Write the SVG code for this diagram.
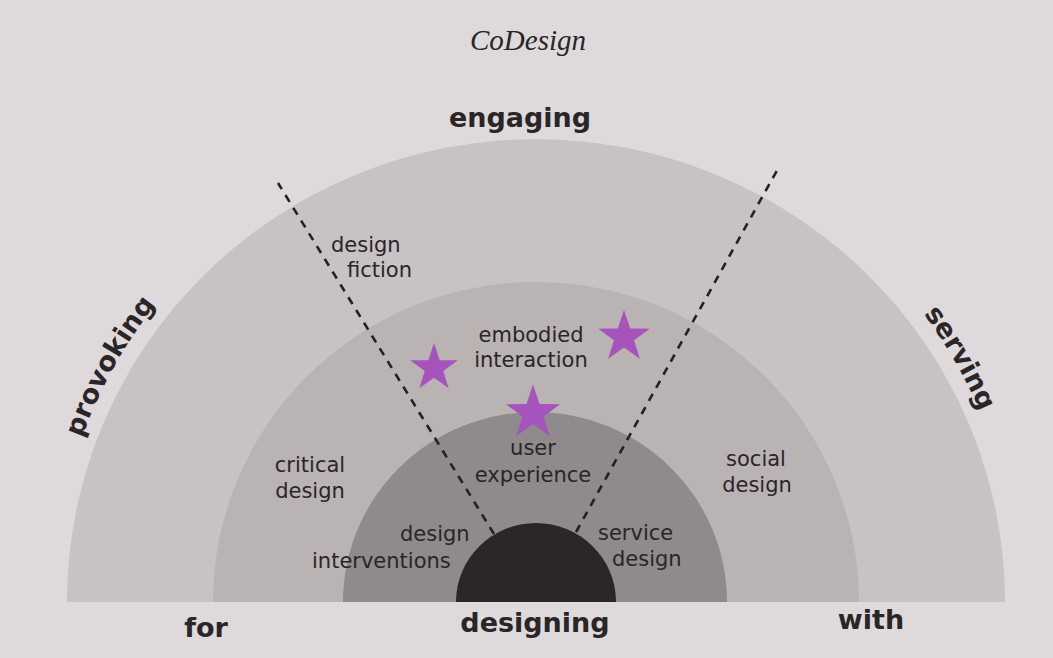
<svg xmlns="http://www.w3.org/2000/svg" xmlns:xlink="http://www.w3.org/1999/xlink" width="1053" height="658" viewBox="0 0 1053 658">
<style>
.lbl{font-family:"DejaVu Sans",Verdana,sans-serif;font-size:21px;fill:#2a2527}
.big{font-family:"DejaVu Sans",Verdana,sans-serif;font-size:27px;font-weight:bold;fill:#2a2527}
.dash{stroke:#252022;stroke-width:2.6;stroke-dasharray:8 7;fill:none}
.star{fill:#a653bb}
</style>
<defs>
<polygon id="star" points="0,-10 2.29,-3.15 9.511,-3.09 3.71,1.2 5.878,8.09 0,3.9 -5.878,8.09 -3.71,1.2 -9.511,-3.09 -2.29,-3.15"/>
<path id="arcPath" d="M 53 602 A 483 483 0 0 1 1019 602"/>
</defs>
<rect x="0" y="0" width="1053" height="658" fill="#dedadb"/>
<text x="528" y="50" text-anchor="middle" font-family="Liberation Serif,serif" font-style="italic" font-size="29" fill="#2a2527">CoDesign</text>
<g id="ring-outer"><path d="M 67 602 A 469 463 0 0 1 1005 602 Z" fill="#c7c2c3"/></g>
<g id="ring-middle"><path d="M 213 602 A 323 320 0 0 1 859 602 Z" fill="#b9b3b4"/></g>
<g id="ring-inner"><path d="M 343 602 A 192 190 0 0 1 727 602 Z" fill="#8f8a8b"/></g>
<g id="core"><path d="M 456 602 A 80 79 0 0 1 616 602 Z" fill="#2b2628"/></g>
<g id="connectors">
<line class="dash" x1="494" y1="534" x2="278" y2="183"/>
<line class="dash" x1="576" y1="532" x2="780" y2="165"/>
</g>
<g id="stars">
<use xlink:href="#star" class="star" transform="translate(434,368) scale(2.5)"/>
<use xlink:href="#star" class="star" transform="translate(624,337) scale(2.7)"/>
<use xlink:href="#star" class="star" transform="translate(533,413) scale(2.85)"/>
</g>
<g id="label-design-fiction"><text class="lbl" x="331" y="252">design</text><text class="lbl" x="347" y="277">fiction</text></g>
<g id="label-embodied"><text class="lbl" x="531" y="342" text-anchor="middle">embodied</text><text class="lbl" x="531" y="367" text-anchor="middle">interaction</text></g>
<g id="label-ux"><text class="lbl" x="533" y="455" text-anchor="middle">user</text><text class="lbl" x="533" y="482" text-anchor="middle">experience</text></g>
<g id="label-critical"><text class="lbl" x="310" y="472" text-anchor="middle">critical</text><text class="lbl" x="310" y="498" text-anchor="middle">design</text></g>
<g id="label-social"><text class="lbl" x="756" y="466" text-anchor="middle">social</text><text class="lbl" x="757" y="492" text-anchor="middle">design</text></g>
<g id="label-interventions"><text class="lbl" x="400" y="541">design</text><text class="lbl" x="312" y="568">interventions</text></g>
<g id="label-service"><text class="lbl" x="598" y="540">service</text><text class="lbl" x="612" y="566">design</text></g>
<g id="axis-labels">
<text class="big" x="520" y="127" text-anchor="middle">engaging</text>
<text class="big"><textPath xlink:href="#arcPath" startOffset="244" text-anchor="middle">provoking</textPath></text>
<text class="big"><textPath xlink:href="#arcPath" startOffset="1265" text-anchor="middle">serving</textPath></text>
<text class="big" x="206" y="637" text-anchor="middle">for</text>
<text class="big" x="535" y="632" text-anchor="middle">designing</text>
<text class="big" x="871" y="629" text-anchor="middle">with</text>
</g>
</svg>
